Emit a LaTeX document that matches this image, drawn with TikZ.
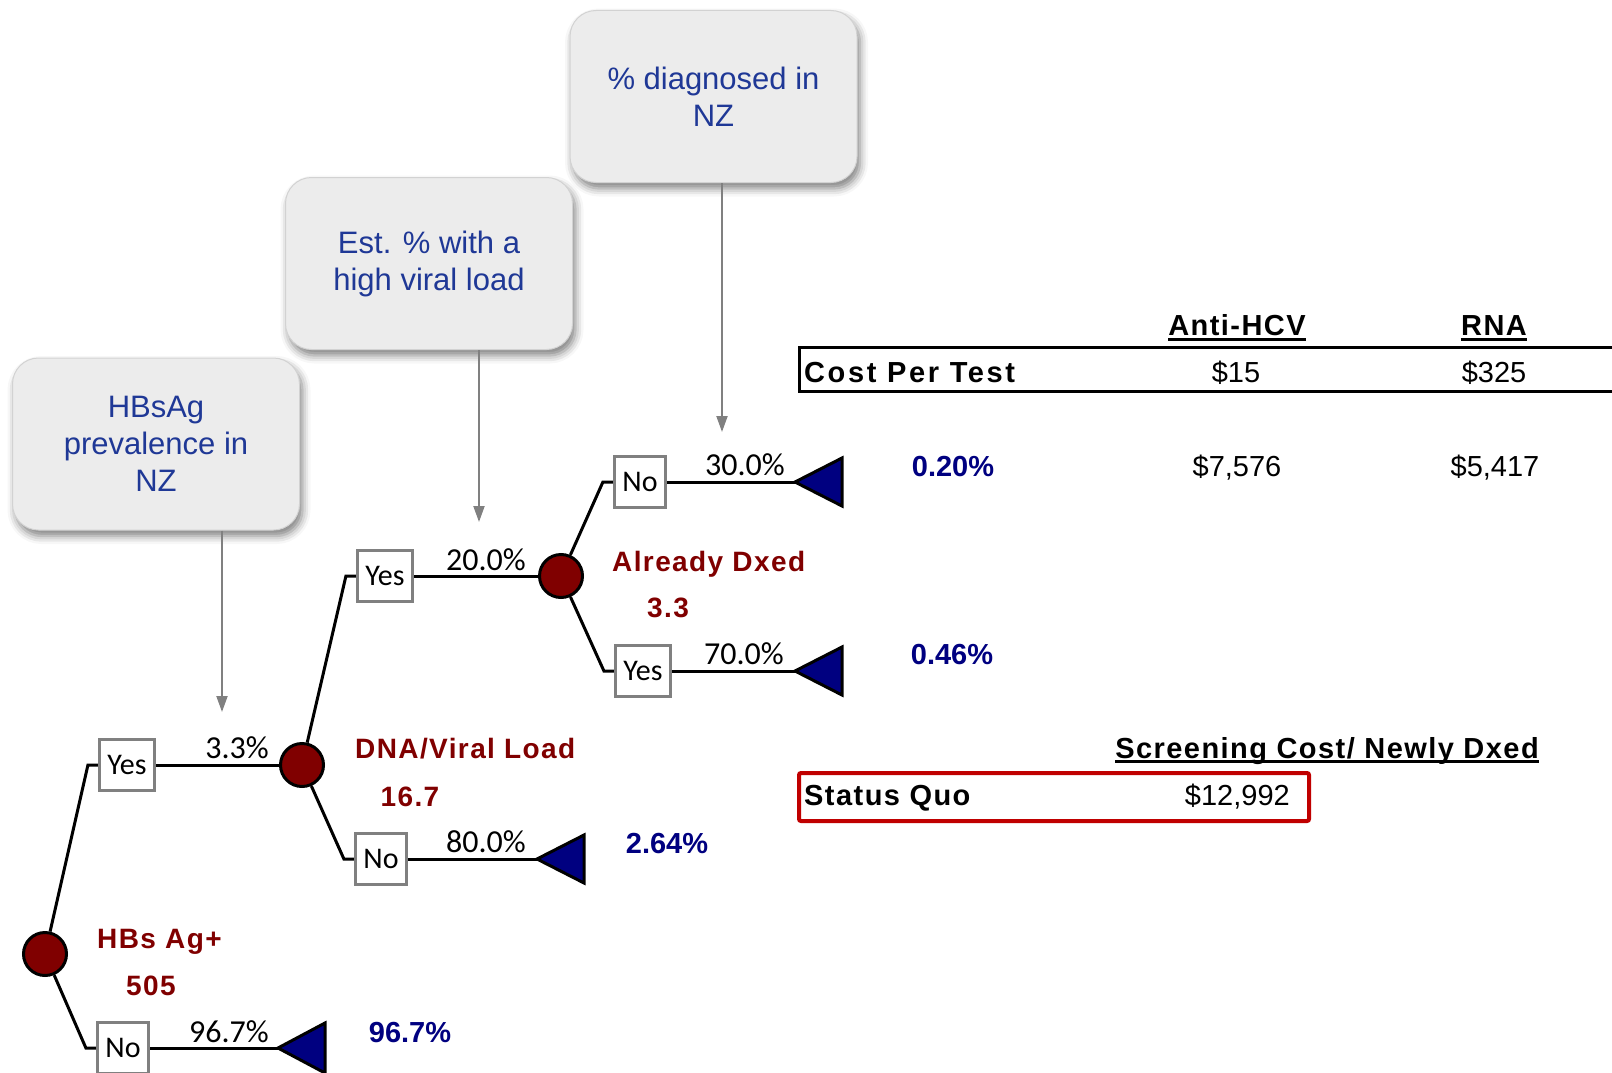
\documentclass[tikz,border=0pt]{standalone}
\usepackage{fontspec}
\setmainfont{Liberation Sans}
\newfontfamily\calfont{Carlito}
\newfontfamily\spfont[LetterSpace=5]{Liberation Sans}
\newfontfamily\spwfont[LetterSpace=9]{Liberation Sans}
\usetikzlibrary{arrows.meta,shadows.blur,calc}
\definecolor{dred}{RGB}{128,0,0}
\definecolor{navyb}{RGB}{0,0,128}
\definecolor{cblue}{RGB}{31,56,150}
\definecolor{qred}{RGB}{192,0,0}
\definecolor{boxgray}{RGB}{128,128,128}
\begin{document}
\begin{tikzpicture}[x=1pt,y=-1pt,
 callout/.style={rectangle, rounded corners=26pt, fill=gray!15, draw=gray!35, line width=1pt,
   minimum width=287pt, minimum height=172pt, align=center, text=cblue,
   font=\fontsize{31}{37}\selectfont,
   blur shadow={shadow xshift=3pt, shadow yshift=-6pt, shadow blur radius=8pt, shadow opacity=50}},
 garrow/.style={draw=gray, line width=2pt, -{Triangle[length=16pt,width=11pt]}},
 chance/.style={circle, fill=dred, draw=black, line width=3pt, minimum size=43pt, inner sep=0pt},
 choice/.style={rectangle, draw=boxgray, line width=3pt, fill=white, minimum height=51pt,
   inner xsep=8pt, inner ysep=0pt, font=\calfont\fontsize{30}{30}\selectfont},
 br/.style={line width=3pt, draw=black},
 term/.style={fill=navyb, draw=black, line width=3pt, line join=miter},
 prob/.style={anchor=base, inner sep=0pt, font=\calfont\fontsize{32}{32}\selectfont},
 pct/.style={anchor=base, inner sep=0pt, text=navyb, font=\bfseries\fontsize{29}{29}\selectfont},
 nlabel/.style={inner sep=0pt, text=dred, font=\spfont\bfseries\fontsize{28}{28}\selectfont},
 tab/.style={inner sep=0pt, font=\fontsize{29}{29}\selectfont},
 tabb/.style={inner sep=0pt, font=\spfont\bfseries\fontsize{29}{29}\selectfont},
]
\useasboundingbox (0,0) rectangle (1612,1073);
\clip (0,0) rectangle (1612,1073);

% callouts
\node[callout] (cA) at (156,444) {HBsAg\\prevalence in\\NZ};
\node[callout] (cB) at (429,263.5) {Est. \% with a\\high viral load};
\node[callout] (cC) at (713.5,96.5) {\% diagnosed in\\NZ};

\coordinate (aA) at (222,712);
\coordinate (aB) at (479,522);
\coordinate (aC) at (722,432);
\draw[garrow] (aA |- cA.south) -- (aA);
\draw[garrow] (aB |- cB.south) -- (aB);
\draw[garrow] (aC |- cC.south) -- (aC);

% tree nodes
\node[chance] (c1) at (45,954) {};
\node[chance] (c2) at (302,765) {};
\node[chance] (c3) at (561,576) {};
\node[choice] (yes1) at (127,765) {Yes};
\node[choice] (no1) at (123,1048) {No};
\node[choice] (yes2) at (385,576) {Yes};
\node[choice] (no2) at (381,859) {No};
\node[choice] (no3) at (640,482) {No};
\node[choice] (yes3) at (643,671) {Yes};

\coordinate (t1) at (278,1048);
\coordinate (t2) at (537,859);
\coordinate (t3) at (795,482);
\coordinate (t4) at (795,671);

% branches
\draw[br] (c1) -- ($(yes1.west)+(-10,0)$) -- (yes1.west);
\draw[br] (c1) -- ($(no1.west)+(-10,0)$) -- (no1.west);
\draw[br] (yes1.east) -- (c2);
\draw[br] (no1.east) -- (t1);
\draw[br] (c2) -- ($(yes2.west)+(-10,0)$) -- (yes2.west);
\draw[br] (c2) -- ($(no2.west)+(-10,0)$) -- (no2.west);
\draw[br] (yes2.east) -- (c3);
\draw[br] (no2.east) -- (t2);
\draw[br] (c3) -- ($(no3.west)+(-10,0)$) -- (no3.west);
\draw[br] (c3) -- ($(yes3.west)+(-10,0)$) -- (yes3.west);
\draw[br] (no3.east) -- (t3);
\draw[br] (yes3.east) -- (t4);

% terminals
\draw[term] (t1) -- ++(47,-25) -- ++(0,50) -- cycle;
\draw[term] (t2) -- ++(47,-24) -- ++(0,48) -- cycle;
\draw[term] (t3) -- ++(47,-24) -- ++(0,48) -- cycle;
\draw[term] (t4) -- ++(47,-24) -- ++(0,48) -- cycle;

% probabilities
\node[prob] (p1) at (237,758) {3.3\%};
\node[prob] (p2) at (229,1042) {96.7\%};
\node[prob] (p3) at (486,570) {20.0\%};
\node[prob] (p4) at (486,852) {80.0\%};
\node[prob] (p5) at (745,475) {30.0\%};
\node[prob] (p6) at (744,664) {70.0\%};

% node labels
\node[nlabel, anchor=base west] (l1) at (97,948) {HBs Ag+};
\node[nlabel, anchor=base] (v1) at (151,995) {505};
\node[nlabel, anchor=base west] (l2) at (355,758) {DNA/Viral Load};
\node[nlabel, anchor=base] (v2) at (410,806) {16.7};
\node[nlabel, anchor=base west] (l3) at (612,571) {Already Dxed};
\node[nlabel, anchor=base] (v3) at (668,617) {3.3};

% terminal values
\node[pct] (q1) at (410,1042) {96.7\%};
\node[pct] (q2) at (667,853) {2.64\%};
\node[pct] (q3) at (953,476) {0.20\%};
\node[pct] (q4) at (952,664) {0.46\%};

% table
\node[tabb, anchor=base] (hA) at (1237,335) {Anti-HCV};
\node[tabb, anchor=base] (hR) at (1494,335) {RNA};
\draw[line width=2.5pt] ($(hA.base west)+(0,4.5)$) -- ($(hA.base east)+(0,4.5)$);
\draw[line width=2.5pt] ($(hR.base west)+(0,4.5)$) -- ($(hR.base east)+(0,4.5)$);
\node[draw, line width=3pt, minimum width=900pt, minimum height=44pt, inner sep=0pt, anchor=north west] (costbox) at (797.5,345.5) {};
\node[inner sep=0pt, font=\spwfont\bfseries\fontsize{29}{29}\selectfont, anchor=base west] (cpt) at (804,382) {Cost Per Test};
\node[tab, anchor=base] (c15) at (1236,382) {\$15};
\node[tab, anchor=base] (c325) at (1494,382) {\$325};
\node[tab, anchor=base] (v7576) at (1237,476) {\$7,576};
\node[tab, anchor=base] (v5417) at (1495,476) {\$5,417};

\node[tabb, anchor=base] (hS) at (1327,758) {Screening Cost/ Newly Dxed};
\draw[line width=2.5pt] ($(hS.base west)+(0,3.5)$) -- ($(hS.base east)+(0,3.5)$);
\node[draw=qred, line width=4pt, rounded corners=2pt, minimum width=510pt, minimum height=48pt, inner sep=0pt, anchor=north west] (sq) at (797,771) {};
\node[tabb, anchor=base west] (sqt) at (804,805) {Status Quo};
\node[tab, anchor=base east] (sqv) at (1290,805) {\$12,992};
\end{tikzpicture}
\end{document}
